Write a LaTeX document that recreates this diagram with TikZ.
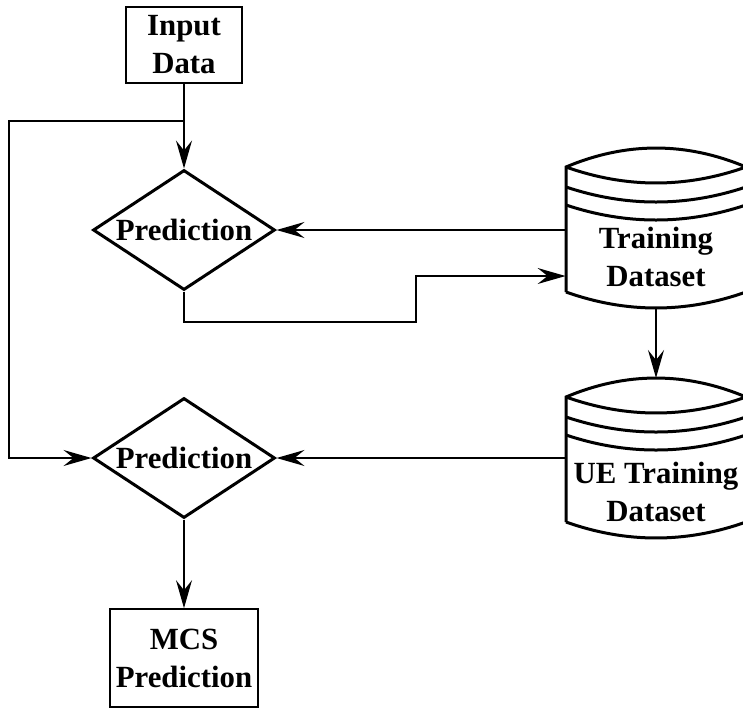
\documentclass[tikz,border=0pt]{standalone}
\usepackage{fontspec}
\setmainfont{Liberation Serif}
\usetikzlibrary{shapes.geometric,arrows.meta}

\begin{document}
\begin{tikzpicture}[x=0.5pt,y=-0.5pt,
    every node/.style={font=\fontsize{15.4}{19}\selectfont\bfseries,align=center},
    box/.style={draw,line width=0.85pt,inner sep=0pt},
    decide/.style={draw,diamond,line width=1.5pt,inner sep=0pt,aspect=1.52,minimum width=91pt,minimum height=60pt},
    dbase/.style={inner sep=0pt,minimum width=90pt},
    dbline/.style={line width=1.5pt,line join=miter},
    arr/.style={-{Stealth[length=14pt,width=8pt,inset=5pt]},line width=0.85pt}]
    \useasboundingbox (0,0) rectangle (743,708);
    \node[box,minimum width=58pt,minimum height=38pt] (input) at (184,45) {Input\\Data};
    \node[decide] (pred1) at (184,230) {Prediction};
    \node[decide] (pred2) at (184,458) {Prediction};
    \node[box,minimum width=74pt,minimum height=49pt] (mcs) at (184,658) {MCS\\Prediction};
    \node[dbase] (train) at (656,257) {Training\\Dataset};
    \node[dbase] (uetrain) at (656,492) {UE Training\\Dataset};
    % database outlines
    \foreach \db/\top in {train/148,uetrain/378}{
        \coordinate (\db-top) at (656,\top);
        \coordinate (\db-bot) at (656,\top+160);
        \draw[dbline] (566,\top+144) -- (566,\top+19) .. controls (626,\top-6.3) and (686,\top-6.3) .. (746,\top+19) -- (746,\top+144) .. controls (686,\top+165.3) and (626,\top+165.3) .. (566,\top+144);
        \draw[dbline] (566,\top+19) .. controls (626,\top+40.3) and (686,\top+40.3) .. (746,\top+19);
        \draw[dbline] (566,\top+39) .. controls (626,\top+59) and (686,\top+59) .. (746,\top+39);
        \draw[dbline] (566,\top+57) .. controls (626,\top+77) and (686,\top+77) .. (746,\top+57);
    }
    \coordinate (split) at (184,121);
    \coordinate (side) at (9,121);
    \coordinate (loopA) at (416,322);
    \coordinate (loopB) at (416,276);
    \draw[arr] (input) -- (pred1);
    \draw[arr] (split) -- (side) |- (pred2.west);
    \draw[arr] (train.west |- pred1.east) -- (pred1.east);
    \draw[arr] (pred1.south) |- (loopA) -- (loopB) -- (loopB -| train.west);
    \draw[arr] (train-bot) -- (uetrain-top);
    \draw[arr] (uetrain.west |- pred2.east) -- (pred2.east);
    \draw[arr] (pred2) -- (mcs);
\end{tikzpicture}
\end{document}
